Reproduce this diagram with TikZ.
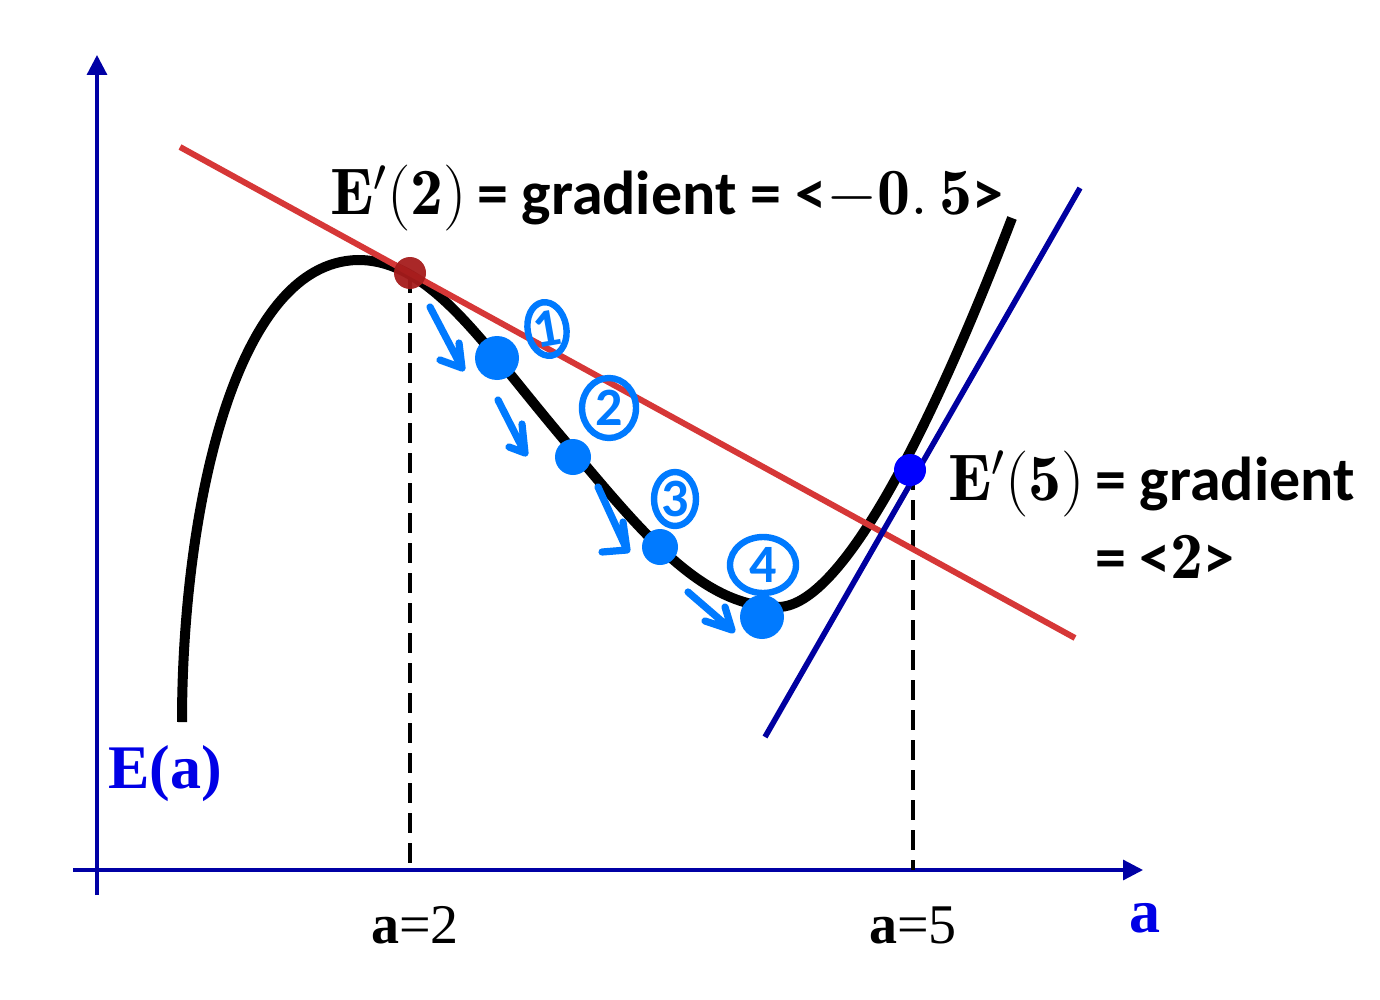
\RequirePackage{fix-cm}
\documentclass[tikz,border=0pt]{standalone}
\usepackage{fontspec}
\newfontfamily\calib{Carlito}
\newfontfamily\tnr{Liberation Serif}
\usetikzlibrary{arrows.meta,shapes.geometric}
\definecolor{axisblue}{RGB}{0,0,165}
\definecolor{tanblue}{RGB}{0,0,160}
\definecolor{redline}{RGB}{214,55,55}
\definecolor{reddot}{RGB}{165,28,28}
\definecolor{dotblue}{RGB}{0,0,255}
\definecolor{labblue}{RGB}{0,0,230}
\definecolor{hwblue}{RGB}{0,122,255}
\newcommand\mathbig{\fontsize{33}{38}\selectfont}
\newcommand\gradlabA{{\mathbig$\mathbf{E}^{\prime}(\mathbf{2})$}\,{\calib\bfseries = gradient = \char"3C}{\mathbig$-\mathbf{0.\,5}$}{\calib\bfseries \char"3E}}
\newcommand\gradlabB{{\mathbig$\mathbf{E}^{\prime}(\mathbf{5})$}\,{\calib\bfseries = gradient}}
\newcommand\gradlabC{{\calib\bfseries = \char"3C}{\mathbig$\mathbf{2}$}{\calib\bfseries \char"3E}}
\tikzset{
  axisline/.style={draw=axisblue, line width=1.6pt, -{Triangle[length=10pt,width=10pt]}},
  dropline/.style={draw=black, line width=2pt, dash pattern=on 10pt off 5pt},
  hwstroke/.style={draw=hwblue, line width=3.6pt, line cap=round, line join=round},
  hwnum/.style={draw=hwblue, line width=3.2pt, ellipse, inner sep=0pt, text=hwblue, font=\calib\bfseries\fontsize{27}{30}\selectfont},
  hwdot/.style={circle, fill=hwblue, inner sep=0pt},
  gradtext/.style={font=\fontsize{31}{36}\selectfont, inner sep=0pt, anchor=text}
}
\begin{document}
\begin{tikzpicture}[x=0.5pt,y=-0.5pt]
\useasboundingbox (0,0) rectangle (1380,1000);
% axes
\coordinate (yb) at (97,895);
\coordinate (yt) at (97,55);
\coordinate (xl) at (73,870);
\coordinate (xr) at (1143,870);
\draw[axisline] (yb) -- (yt);
\draw[axisline] (xl) -- (xr);
% dashed drop lines
\coordinate (p2) at (410,273);
\coordinate (p5) at (910,470);
\coordinate (b2) at (410,870);
\coordinate (b5) at (913,870);
\draw[dropline] (p2) -- (b2);
\draw[dropline] ([xshift=1.5pt]p5) -- (b5);
% curve
\draw[line width=5pt, line cap=butt] (182,722) .. controls (182,520) and (232,262) .. (358,260)
  .. controls (430,260) and (480,340) .. (560,435)
  .. controls (640,530) and (700,607) .. (778,607)
  .. controls (850,607) and (950,380) .. (1012,218);
% tangent lines
\coordinate (r1) at (180,147);
\coordinate (r2) at (1075,638);
\draw[redline, line width=3pt] (r1) -- (r2);
\coordinate (t1) at (765,737);
\coordinate (t2) at (1080,188);
\draw[tanblue, line width=2.8pt] (t1) -- (t2);
% points
\node[circle, fill=reddot, minimum size=16pt, inner sep=0pt, opacity=0.95] (d2) at (p2) {};
\node[circle, fill=dotblue, minimum size=16pt, inner sep=0pt] (d5) at (p5) {};
% handwritten steps
\node[hwdot, minimum size=22pt] (s1) at (497,358) {};
\node[hwdot, minimum size=18pt] (s2) at (573,457) {};
\node[hwdot, minimum size=18pt] (s3) at (660,547) {};
\node[hwdot, minimum size=22pt] (s4) at (762,617) {};
\node[hwnum, minimum width=15pt, minimum height=27pt, rotate=10] (n1) at (547,329) {1};
\node[hwnum, minimum width=27pt, minimum height=30pt] (n2) at (609,408) {2};
\node[hwnum, minimum width=21pt, minimum height=27pt] (n3) at (675,499) {3};
\node[hwnum, minimum width=33pt, minimum height=28pt] (n4) at (763,565) {4};
% hand arrows
\draw[hwstroke] (430,307) -- (462,368) -- (440,360) (462,368) -- (459,343);
\draw[hwstroke] (498,400) -- (525,453) -- (509,447) (525,453) -- (522,424);
\draw[hwstroke] (598,487) -- (627,550) -- (602,552) (627,550) -- (623,522);
\draw[hwstroke] (688,592) -- (732,630) -- (705,621) (732,630) -- (725,607);
% labels
\path (330,215) node[gradtext] (l2) {\gradlabA};
\path (948,500) node[gradtext] (l5) {\gradlabB};
\path (1095,578) node[gradtext] (l5b) {\gradlabC};
\path (108,788) node[gradtext, text=labblue, font=\tnr\bfseries\fontsize{31}{35}\selectfont] (ea) {E(a)};
\path (1145,932) node[inner sep=0pt, anchor=base, text=labblue, font=\tnr\bfseries\fontsize{31}{35}\selectfont] (ax) {a};
\path (415,943) node[inner sep=0pt, anchor=base, font=\tnr\fontsize{28}{32}\selectfont] (a2) {\textbf{a}=2};
\path (913,943) node[inner sep=0pt, anchor=base, font=\tnr\fontsize{28}{32}\selectfont] (a5) {\textbf{a}=5};
\end{tikzpicture}
\end{document}
